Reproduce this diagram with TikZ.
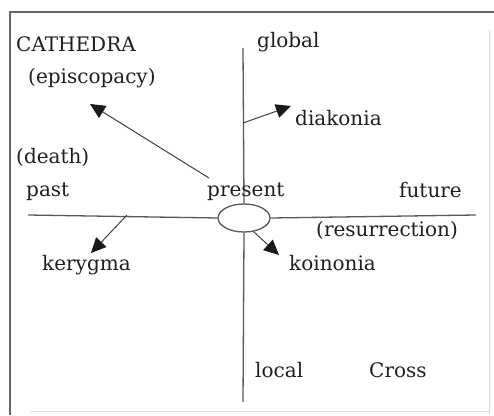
\documentclass[tikz,border=0pt]{standalone}
\usepackage{fontspec}
\setmainfont{DejaVu Serif}
\usepackage{tikz}
\usetikzlibrary{shapes, arrows.meta, positioning}

\begin{document}
\begin{tikzpicture}[x=1pt, y=-1pt,
    lbl/.style={inner sep=0pt, font=\fontsize{20}{24}\selectfont, text=black!88},
    axis/.style={draw=black!65, line width=1.3pt},
    pointer/.style={draw=black!75, line width=1pt, -{Triangle[length=15pt, width=14pt, black!90]}}]
    \useasboundingbox (0,0) rectangle (494,415);
    % frame
    \draw[black!60, line width=1.6pt] (10,415) -- (10,12) -- (494,12);
    \draw[black!15, line width=0.8pt] (489,30) -- (489,415);
    \draw[black!12, line width=0.8pt] (30,411) -- (489,411);
    % axes
    \coordinate (west) at (28,215);
    \coordinate (east) at (476,215);
    \coordinate (north) at (243,48);
    \coordinate (south) at (243,402);
    \node[draw=black!65, line width=1.3pt, ellipse, minimum width=52pt, minimum height=28pt, inner sep=0pt] (hub) at (244,218) {};
    \draw[axis] (west) -- (hub.west);
    \draw[axis] (hub.east) -- (east);
    \draw[axis] (north) -- (hub.north);
    \draw[axis] (hub.south) -- (south);
    % labels
    \node[lbl, anchor=west] (cathedra) at (16,44) {CATHEDRA};
    \node[lbl, anchor=west] (episcopacy) at (28,78) {(episcopacy)};
    \node[lbl, anchor=west] (death) at (16,157) {(death)};
    \node[lbl, anchor=west] (past) at (26,192) {past};
    \node[lbl, anchor=west] (present) at (207,192) {present};
    \node[lbl, anchor=west] (global) at (257,42) {global};
    \node[lbl, anchor=west] (diakonia) at (295,118) {diakonia};
    \node[lbl, anchor=west] (future) at (399,190) {future};
    \node[lbl, anchor=west] (resurrection) at (316,230) {(resurrection)};
    \node[lbl, anchor=west] (kerygma) at (42,265) {kerygma};
    \node[lbl, anchor=west] (koinonia) at (289,263) {koinonia};
    \node[lbl, anchor=west] (local) at (255,370) {local};
    \node[lbl, anchor=west] (cross) at (369,370) {Cross};
    % arrows
    \coordinate (episcopacytip) at (90,104);
    \coordinate (diakoniatip) at (291,106);
    \coordinate (kerygmatip) at (91,253);
    \coordinate (koinoniatip) at (279,255);
    \draw[pointer] (present.west |- 0,178) ++(2,0) coordinate (ep0) -- (episcopacytip);
    \draw[pointer] (north |- 0,123) -- (diakoniatip);
    \draw[pointer] (west -| 127,0) -- (kerygmatip);
    \draw[pointer] (hub.-55) -- (koinoniatip);
\end{tikzpicture}
\end{document}
